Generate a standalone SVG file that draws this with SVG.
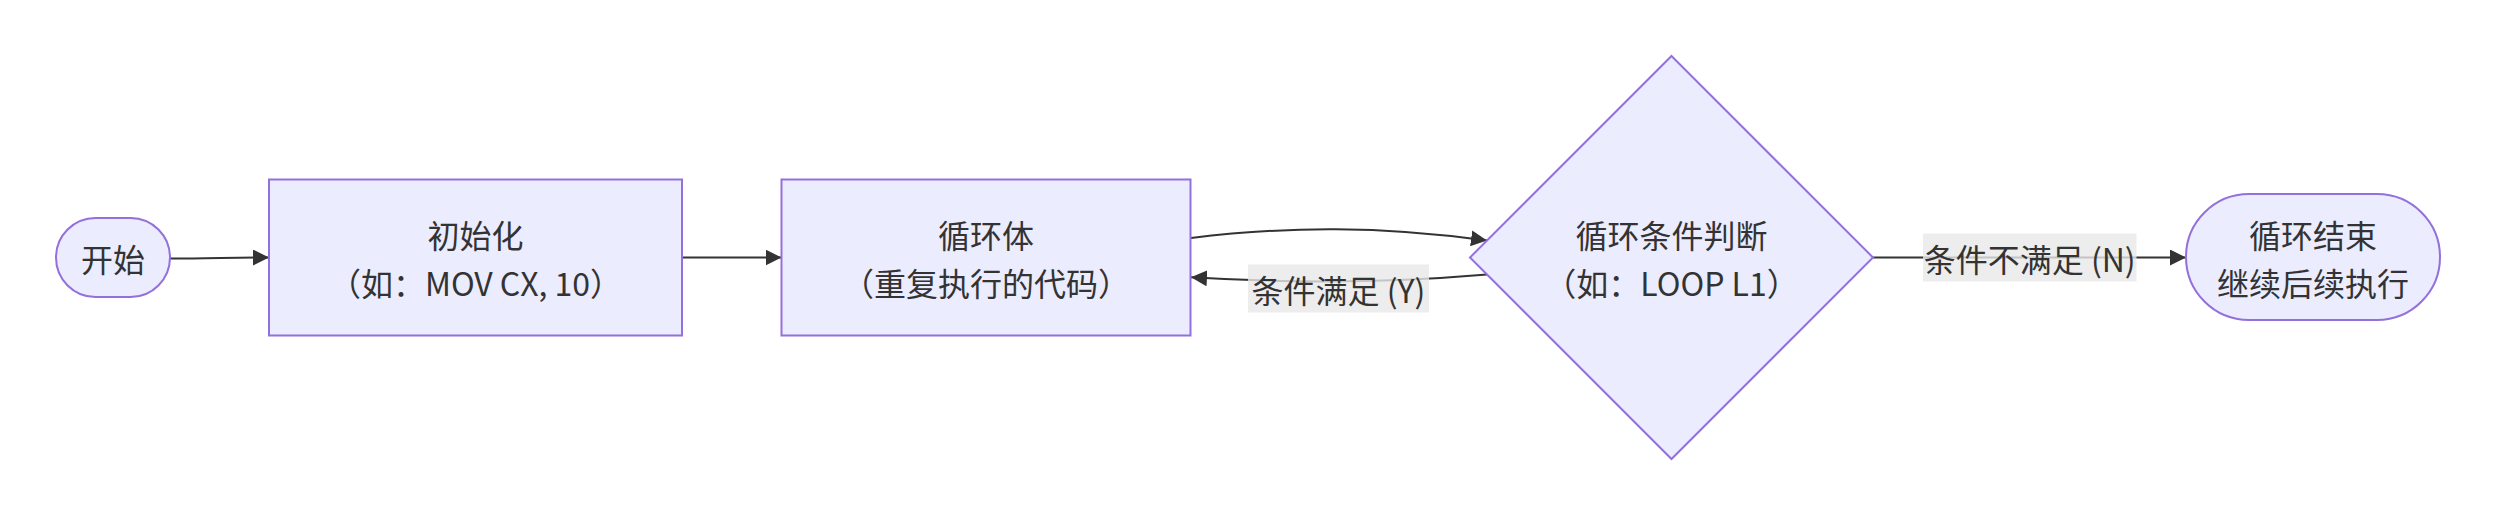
<svg xmlns="http://www.w3.org/2000/svg" width="2495" height="515" viewBox="0 0 2495 515">
<defs>
<style>
.node{fill:#ECECFF;stroke:#9370DB;stroke-width:2}
.lbl{font-family:"Noto Sans CJK SC","Noto Sans",sans-serif;font-size:32px;fill:#333;text-anchor:middle;dominant-baseline:central}
.edge{fill:none;stroke:#333;stroke-width:2}
.elbg{fill:#e8e8e8;opacity:0.8}
</style>
<marker id="arrow" viewBox="0 0 10 10" refX="10" refY="5" markerUnits="userSpaceOnUse" markerWidth="16" markerHeight="16" orient="auto">
<path d="M0,0 L10,5 L0,10 z" fill="#333"/>
</marker>
</defs>
<rect width="2495" height="515" fill="#fff"/>
<g id="connectors">
<path class="edge" d="M170,258.5 C210,258.5 230,257.5 269,257.5" marker-end="url(#arrow)"/>
<path class="edge" d="M682.5,257.5 L781.5,257.5" marker-end="url(#arrow)"/>
<path class="edge" d="M1191,238 C1290,226 1380,226 1487,240.5" marker-end="url(#arrow)"/>
<path class="edge" d="M1487,274.5 C1400,282 1300,284 1191,277.3" marker-end="url(#arrow)"/>
<path class="edge" d="M1873,257.5 L2186,257.5" marker-end="url(#arrow)"/>
<g id="label-yes">
<rect class="elbg" x="1248" y="264.5" width="181" height="48"/>
<text class="lbl" x="1338.5" y="288.5">条件满足 (Y)</text>
</g>
<g id="label-no">
<rect class="elbg" x="1923" y="233.5" width="213.5" height="48"/>
<text class="lbl" x="2029.7" y="257.5">条件不满足 (N)</text>
</g>
</g>
<g id="start">
<rect class="node" x="56" y="218" width="114" height="79" rx="39.5" ry="39.5"/>
<text class="lbl" x="113" y="257.5">开始</text>
</g>
<g id="init">
<rect class="node" x="269" y="179.5" width="413" height="156"/>
<text class="lbl"><tspan x="475.5" y="233.5">初始化</tspan><tspan x="475.5" y="281.5">（如：MOV CX, 10）</tspan></text>
</g>
<g id="body">
<rect class="node" x="781.5" y="179.5" width="409" height="156"/>
<text class="lbl"><tspan x="986" y="233.5">循环体</tspan><tspan x="986" y="281.5">（重复执行的代码）</tspan></text>
</g>
<g id="cond">
<polygon class="node" points="1671.5,56 1873,257.5 1671.5,459 1470,257.5"/>
<text class="lbl"><tspan x="1671.5" y="233.5">循环条件判断</tspan><tspan x="1671.5" y="281.5">（如：LOOP L1）</tspan></text>
</g>
<g id="end">
<rect class="node" x="2186" y="194" width="254" height="126" rx="63" ry="63"/>
<text class="lbl"><tspan x="2313" y="233.5">循环结束</tspan><tspan x="2313" y="281.5">继续后续执行</tspan></text>
</g>
</svg>
